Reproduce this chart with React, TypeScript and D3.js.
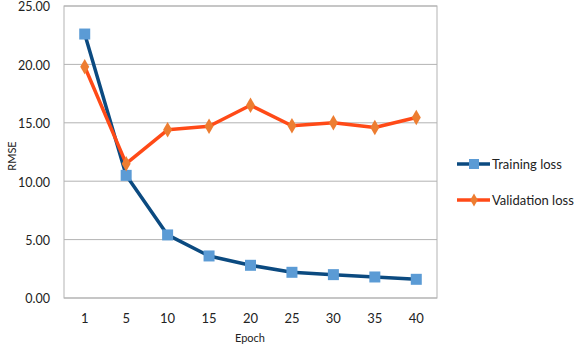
import * as d3 from "d3";
import React from "react";

const epochs = ["1", "5", "10", "15", "20", "25", "30", "35", "40"];
const trainingLoss = [22.6, 10.5, 5.4, 3.6, 2.8, 2.2, 2.0, 1.8, 1.6];
const validationLoss = [19.8, 11.5, 14.4, 14.7, 16.5, 14.75, 15.0, 14.6, 15.45];
const yTicks = [0, 5, 10, 15, 20, 25];

const width = 588;
const height = 352;
const left = 64;
const right = 437;
const top = 6;
const bottom = 298;
const font = "Lato, 'Open Sans', sans-serif";

const x = d3.scaleBand().domain(epochs).range([left, right]);
const y = d3.scaleLinear().domain([0, 25]).range([bottom, top]);

const cx = (e: string) => (x(e) ?? 0) + x.bandwidth() / 2;

const line = d3
  .line<number>()
  .x((_, i) => cx(epochs[i]))
  .y((d) => y(d));

const diamond = d3.symbol().type(d3.symbolDiamond).size(70);

export default function App() {
  return (
    <svg
      width={width}
      height={height}
      style={{ position: "absolute", left: 0, top: 0, background: "#fff" }}
    >
      {yTicks.map((t) => (
        <g key={t}>
          <line x1={left} x2={right} y1={y(t)} y2={y(t)} stroke="#b3b3b3" strokeWidth={1} />
          <text
            x={50}
            y={y(t) + 1}
            dy="0.35em"
            textAnchor="end"
            fontFamily={font}
            fontSize={12.5}
            fill="#222"
          >
            {t.toFixed(2)}
          </text>
        </g>
      ))}
      <rect x={left} y={top} width={right - left} height={bottom - top} fill="none" stroke="#b3b3b3" />
      {epochs.map((e) => (
        <text
          key={e}
          x={cx(e)}
          y={318}
          dy="0.35em"
          textAnchor="middle"
          fontFamily={font}
          fontSize={13}
          fill="#222"
        >
          {e}
        </text>
      ))}
      <text x={250} y={338} dy="0.35em" textAnchor="middle" fontFamily={font} fontSize={11} fill="#222">
        Epoch
      </text>
      <text
        transform={`translate(12, ${(top + bottom) / 2 + 4}) rotate(-90)`}
        textAnchor="middle"
        dy="0.35em"
        fontFamily={font}
        fontSize={11}
        fill="#222"
      >
        RMSE
      </text>

      <path d={line(trainingLoss) ?? ""} fill="none" stroke="#0b4a80" strokeWidth={3.5} strokeLinejoin="round" />
      <path d={line(validationLoss) ?? ""} fill="none" stroke="#ff4a17" strokeWidth={3.5} strokeLinejoin="round" />
      {trainingLoss.map((d, i) => (
        <rect key={i} x={cx(epochs[i]) - 5.5} y={y(d) - 5.5} width={11} height={11} fill="#5b9bd5" />
      ))}
      {validationLoss.map((d, i) => (
        <path key={i} d={diamond() ?? ""} transform={`translate(${cx(epochs[i])},${y(d)})`} fill="#ed7d31" />
      ))}

      <g transform="translate(457, 164)">
        <line x1={0} x2={33} y1={0} y2={0} stroke="#0b4a80" strokeWidth={3.5} />
        <rect x={12} y={-5} width={10} height={10} fill="#5b9bd5" />
        <text x={35} y={0} dy="0.35em" fontFamily={font} fontSize={13} fill="#222">
          Training loss
        </text>
      </g>
      <g transform="translate(457, 200)">
        <line x1={0} x2={33} y1={0} y2={0} stroke="#ff4a17" strokeWidth={3.5} />
        <path d={d3.symbol().type(d3.symbolDiamond).size(50)() ?? ""} transform="translate(17,0)" fill="#ed7d31" />
        <text x={35} y={0} dy="0.35em" fontFamily={font} fontSize={13} fill="#222">
          Validation loss
        </text>
      </g>
    </svg>
  );
}
